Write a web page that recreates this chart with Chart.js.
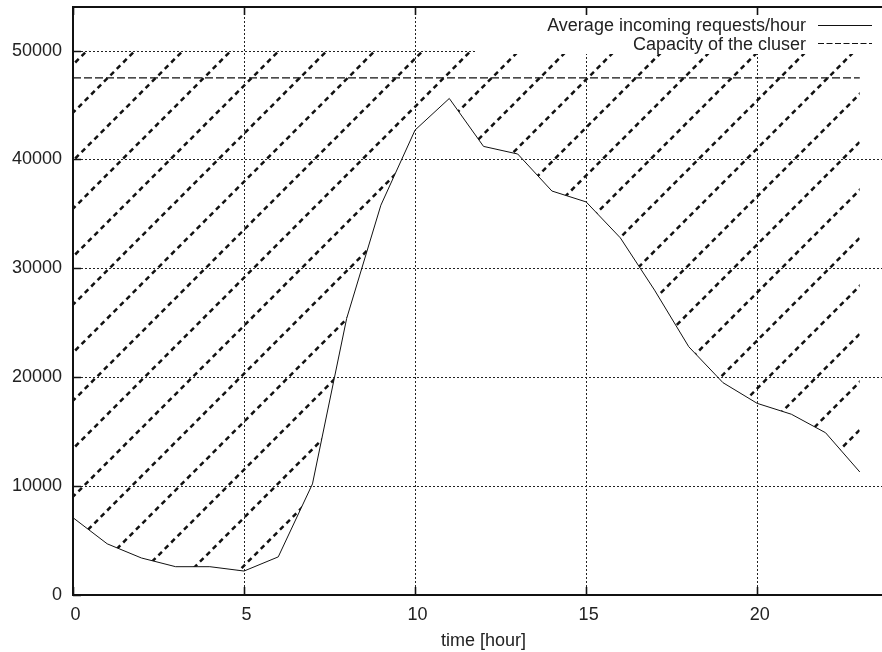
<!DOCTYPE html>
<html>
<head>
<meta charset="utf-8">
<title>Incoming requests vs cluster capacity</title>
<script src="https://cdn.jsdelivr.net/npm/chart.js@4.4.0/dist/chart.umd.min.js"></script>
<style>
  html, body { margin: 0; padding: 0; background: #fff; overflow: hidden; }
  #wrap { width: 900px; height: 652px; }
</style>
</head>
<body>
<div id="wrap"><canvas id="requestsChart" width="900" height="652"></canvas></div>
<script>
// hourly averages of incoming requests
const hours = [0, 1, 2, 3, 4, 5, 6, 7, 8, 9, 10, 11, 12, 13, 14, 15, 16, 17, 18, 19, 20, 21, 22, 23];
const requestsPerHour = [7100, 4700, 3400, 2600, 2600, 2200, 3500, 10200, 25400, 35800, 42700, 45600,
                         41200, 40500, 37100, 36100, 32800, 28000, 22800, 19500, 17600, 16600, 14900, 11300];

// capacity of the cluster, flat over the day
const capacityHours = [0, 23];
const capacityValues = [47500, 47500];

// the hatched area runs from the request curve up to this level
const hatchLevel = 50000;

const xTickValues = [0, 5, 10, 15, 20];
const yTickValues = [0, 10000, 20000, 30000, 40000, 50000];
const seriesLabels = ['Average incoming requests/hour', 'Capacity of the cluser'];
const xTitle = 'time [hour]';

const FONT = '"Liberation Sans", Arial, Helvetica, sans-serif';
const INK = '#111';

// diagonal dashed hatching, built as a repeating tile
function makeHatch() {
    const tile = 96, gap = 48, c0 = 41.7;
    const cv = document.createElement('canvas');
    cv.width = tile;
    cv.height = tile;
    const g = cv.getContext('2d');
    g.strokeStyle = INK;
    g.lineWidth = 2.5;
    g.lineCap = 'butt';
    const period = tile * Math.SQRT2 / 15;
    g.setLineDash([period * 0.55, period * 0.45]);
    const len = 600, d = Math.SQRT1_2;
    for (let k = -1; k <= 4; k++) {
        const sx = -200 + gap * k, sy = c0 + 200;
        g.beginPath();
        g.moveTo(sx, sy);
        g.lineTo(sx + len * d, sy - len * d);
        g.stroke();
    }
    return g.createPattern(cv, 'repeat');
}

// gnuplot-like frame: dotted grid, opaque key, border with inward ticks
const plotFrame = {
    id: 'plotFrame',
    beforeDatasetsDraw(chart) {
        const { ctx, chartArea: a, scales: { x, y } } = chart;
        ctx.save();
        ctx.strokeStyle = '#222';
        ctx.lineWidth = 1;
        ctx.setLineDash([2, 2]);
        ctx.beginPath();
        xTickValues.forEach(v => {
            if (v === x.min) return;
            const px = Math.round(x.getPixelForValue(v)) + 0.5;
            ctx.moveTo(px, a.bottom);
            ctx.lineTo(px, a.top);
        });
        yTickValues.forEach(v => {
            if (v === y.min) return;
            const py = Math.round(y.getPixelForValue(v)) + 0.5;
            ctx.moveTo(a.left, py);
            ctx.lineTo(a.right, py);
        });
        ctx.stroke();
        ctx.restore();
    },
    afterDatasetsDraw(chart) {
        const { ctx, chartArea: a, scales: { x, y } } = chart;
        ctx.save();

        // key background
        const keyLeft = 475, keyBottom = 54, textRight = 806;
        ctx.fillStyle = '#fff';
        ctx.fillRect(keyLeft, a.top, a.right - keyLeft, keyBottom - a.top);

        // border
        ctx.strokeStyle = INK;
        ctx.lineWidth = 2;
        ctx.setLineDash([]);
        ctx.strokeRect(a.left, a.top, a.right - a.left, a.bottom - a.top);

        // ticks pointing into the plot
        const tl = 8;
        ctx.lineWidth = 1.6;
        ctx.beginPath();
        xTickValues.forEach(v => {
            const px = Math.round(x.getPixelForValue(v)) + 0.5;
            ctx.moveTo(px, a.bottom);
            ctx.lineTo(px, a.bottom - tl);
            ctx.moveTo(px, a.top);
            ctx.lineTo(px, a.top + tl);
        });
        yTickValues.forEach(v => {
            const py = Math.round(y.getPixelForValue(v)) + 0.5;
            ctx.moveTo(a.left, py);
            ctx.lineTo(a.left + tl, py);
            ctx.moveTo(a.right, py);
            ctx.lineTo(a.right - tl, py);
        });
        ctx.stroke();

        // key entries
        ctx.font = '18px ' + FONT;
        ctx.fillStyle = '#222';
        ctx.textAlign = 'right';
        ctx.textBaseline = 'alphabetic';
        ctx.fillText(seriesLabels[0], textRight, 31);
        ctx.fillText(seriesLabels[1], textRight, 50);

        ctx.lineWidth = 1;
        ctx.beginPath();
        ctx.moveTo(818, 25.5);
        ctx.lineTo(872, 25.5);
        ctx.stroke();
        ctx.setLineDash([6, 2.5]);
        ctx.beginPath();
        ctx.moveTo(818, 43.5);
        ctx.lineTo(872, 43.5);
        ctx.stroke();

        ctx.restore();
    }
};

const ctx = document.getElementById('requestsChart');
new Chart(ctx, {
    type: 'line',
    data: {
        datasets: [{
            label: seriesLabels[0],
            data: hours.map((h, i) => ({ x: h, y: requestsPerHour[i] })),
            borderColor: INK,
            borderWidth: 1,
            pointRadius: 0,
            tension: 0,
            fill: { value: hatchLevel },
            backgroundColor: makeHatch()
        }, {
            label: seriesLabels[1],
            data: capacityHours.map((h, i) => ({ x: h, y: capacityValues[i] })),
            borderColor: INK,
            borderWidth: 1.2,
            borderDash: [8, 3],
            pointRadius: 0,
            fill: false
        }]
    },
    options: {
        responsive: false,
        animation: false,
        events: [],
        layout: { padding: { top: 7, right: 6, left: 0, bottom: 0 } },
        plugins: {
            legend: { display: false },
            tooltip: { enabled: false }
        },
        scales: {
            x: {
                type: 'linear',
                min: 0,
                max: 24,
                grid: { display: false, drawTicks: false },
                border: { display: false },
                afterBuildTicks: s => { s.ticks = xTickValues.map(v => ({ value: v })); },
                afterFit: s => {
                    s.height = 57;
                    s.paddingLeft = 0;
                    s.paddingRight = 0;
                },
                ticks: {
                    padding: 9,
                    labelOffset: 2.5,
                    maxRotation: 0,
                    autoSkip: false,
                    color: '#222',
                    font: { family: FONT, size: 18 },
                    callback: v => String(v)
                },
                title: {
                    display: true,
                    text: xTitle,
                    color: '#222',
                    font: { family: FONT, size: 18 },
                    padding: { top: 0, bottom: 0 }
                }
            },
            y: {
                type: 'linear',
                min: 0,
                max: 54000,
                grid: { display: false, drawTicks: false },
                border: { display: false },
                afterBuildTicks: s => { s.ticks = yTickValues.map(v => ({ value: v })); },
                afterFit: s => {
                    s.width = 73;
                    s.paddingTop = 0;
                    s.paddingBottom = 0;
                },
                ticks: {
                    padding: 11,
                    autoSkip: false,
                    color: '#222',
                    font: { family: FONT, size: 18 },
                    callback: v => String(v)
                }
            }
        }
    },
    plugins: [plotFrame]
});
</script>
</body>
</html>
